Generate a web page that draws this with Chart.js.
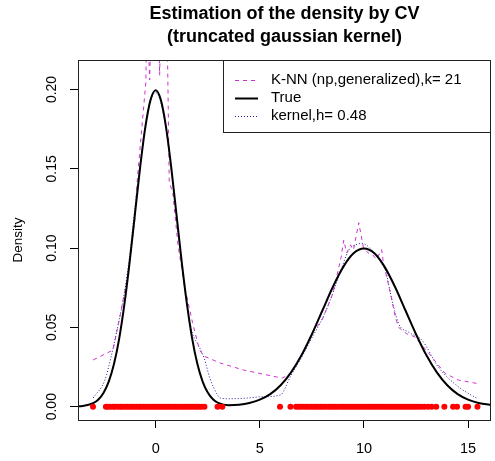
<!DOCTYPE html>
<html>
<head>
<meta charset="utf-8">
<script src="https://cdn.jsdelivr.net/npm/chart.js@4.4.1/dist/chart.umd.min.js"></script>
<style>
  body { margin: 0; background: #fff; }
  canvas { display: block; }
</style>
</head>
<body>
<canvas id="densityChart" width="495" height="461"></canvas>
<script>
// ---- data ----
const titleLines = ['Estimation of the density by CV', '(truncated gaussian kernel)'];
const yAxisTitle = 'Density';

const xTicks = [0, 5, 10, 15];
const xTickLabels = ['0', '5', '10', '15'];
const yTicks = [0, 0.05, 0.10, 0.15, 0.20];
const yTickLabels = ['0.00', '0.05', '0.10', '0.15', '0.20'];

const trueX = [-3.8, -3.5, -3.0, -2.75, -2.5, -2.25, -2.0, -1.75, -1.5, -1.25, -1.0, -0.75, -0.5, -0.25, 0,
    0.25, 0.5, 0.75, 1.0, 1.25, 1.5, 1.75, 2.0, 2.25, 2.5, 2.75, 3.0, 3.5, 4.0, 4.5, 5.0, 5.5, 6.0, 6.5,
    7.0, 7.5, 8.0, 8.5, 9.0, 9.5, 10.0, 10.5, 11.0, 11.5, 12.0, 12.5, 13.0, 13.5, 14.0, 14.5, 15.0, 15.5, 16.2];
const trueY = [0.0002, 0.0004, 0.0022, 0.0045, 0.0088, 0.0159, 0.0270, 0.0431, 0.0648, 0.0913, 0.1210, 0.1506, 0.1760, 0.1933, 0.1995,
    0.1933, 0.1760, 0.1506, 0.1210, 0.0913, 0.0648, 0.0431, 0.0270, 0.0160, 0.0089, 0.0047, 0.0024, 0.0009, 0.0012, 0.0023, 0.0044, 0.0079, 0.0135, 0.0216,
    0.0324, 0.0457, 0.0605, 0.0753, 0.0880, 0.0967, 0.0997, 0.0967, 0.0880, 0.0753, 0.0605, 0.0457, 0.0324, 0.0216, 0.0135, 0.0079, 0.0044, 0.0023, 0.0009];

const knnX = [-3.0, -2.05, -1.7, -1.35, -1.0, -0.89, -0.47, -0.42, -0.29, -0.18, 0.0, 0.12, 0.19, 0.27, 0.45, 0.57, 0.65,
    0.83, 1.07, 1.4, 1.77, 2.1, 2.3, 3.1, 4.25, 6.07, 6.45, 7.0, 7.5, 8.0, 8.5, 8.9, 9.03, 9.17, 9.36, 9.5, 9.75, 9.98,
    10.2, 10.4, 10.6, 10.85, 10.94, 11.18, 11.5, 11.66, 12.05, 12.45, 13.25, 13.89, 14.53, 15.4];
const knnY = [0.0295, 0.0357, 0.058, 0.082, 0.118, 0.142, 0.205, 0.26, 0.206, 0.26, 0.28, 0.26, 0.209, 0.26, 0.28, 0.22, 0.142,
    0.134, 0.102, 0.075, 0.053, 0.036, 0.032, 0.0275, 0.023, 0.018, 0.0205, 0.032, 0.046, 0.055, 0.071, 0.094, 0.105, 0.097, 0.102, 0.099, 0.116, 0.100,
    0.097, 0.096, 0.093, 0.099, 0.090, 0.077, 0.057, 0.050, 0.046, 0.044, 0.0315, 0.021, 0.0168, 0.0147];

const kernelX = [-3.0, -2.44, -2.15, -1.75, -1.5, -1.25, -1.0, -0.75, -0.5, -0.25, 0, 0.25, 0.5, 0.75, 1.0, 1.25, 1.5,
    1.77, 2.0, 2.33, 2.6, 2.97, 3.13, 3.5, 4.24, 5.19, 5.99, 6.47, 7.0, 7.36, 8.16, 8.79, 9.27, 9.6, 9.91, 10.38, 10.86,
    11.03, 11.3, 11.66, 12.14, 12.78, 13.57, 14.53, 15.48];
const kernelY = [0.0055, 0.0168, 0.031, 0.055, 0.072, 0.095, 0.125, 0.153, 0.177, 0.193, 0.198, 0.192, 0.175, 0.149, 0.120, 0.090, 0.064,
    0.046, 0.040, 0.0305, 0.018, 0.0074, 0.0053, 0.0050, 0.0053, 0.0063, 0.0074, 0.019, 0.031, 0.040, 0.060, 0.082, 0.0987, 0.102, 0.103, 0.0987, 0.090,
    0.086, 0.070, 0.0525, 0.047, 0.042, 0.025, 0.0126, 0.0048];

const rugX = [-3.01, -2.39, -2.3, -2.18, -2.05, -1.96, -1.82, -1.7, -1.61, -1.48, -1.37, -1.25, -1.14, -1.03, -0.92, -0.8,
    -0.71, -0.6, -0.49, -0.38, -0.27, -0.16, -0.05, 0.06, 0.17, 0.28, 0.39, 0.5, 0.61, 0.72, 0.84, 0.95, 1.06, 1.18,
    1.29, 1.4, 1.52, 1.63, 1.74, 1.86, 1.97, 2.08, 2.2, 2.34, 2.97, 3.2,
    5.97, 6.47, 6.74, 6.85, 6.97, 7.1, 7.22, 7.33, 7.46, 7.58, 7.7, 7.81, 7.93, 8.05, 8.17, 8.3, 8.41, 8.53, 8.65,
    8.77, 8.9, 9.01, 9.13, 9.25, 9.37, 9.49, 9.61, 9.73, 9.85, 9.97, 10.09, 10.21, 10.33, 10.45, 10.57, 10.69, 10.81,
    10.93, 11.05, 11.17, 11.29, 11.41, 11.53, 11.65, 11.77, 11.89, 12.01, 12.13, 12.26, 12.38, 12.5, 12.62, 12.76,
    12.9, 13.08, 13.25, 13.47, 13.86, 14.28, 14.47, 14.88, 15.0, 15.45];

const xMin = -3.73, xMax = 16.1;
const yMin = -0.0084, yMax = 0.2186;

const FONT = '"Liberation Sans", Arial, sans-serif';

function toPoints(xs, ys) {
    return xs.map((x, i) => ({ x: x, y: ys[i] }));
}

// title drawn over the plot region, like R's main=
const titlePlugin = {
    id: 'rTitle',
    afterDraw(chart) {
        const { ctx, chartArea } = chart;
        const cx = (chartArea.left + chartArea.right) / 2;
        ctx.save();
        ctx.fillStyle = '#000';
        ctx.font = 'bold 18px ' + FONT;
        ctx.textAlign = 'center';
        ctx.textBaseline = 'middle';
        titleLines.forEach((line, i) => ctx.fillText(line, cx, 14 + i * 23));
        ctx.restore();
    }
};

// plot box + R style legend in the top right corner
const boxLegendPlugin = {
    id: 'rBoxLegend',
    afterDraw(chart) {
        const { ctx, chartArea } = chart;
        ctx.save();
        ctx.strokeStyle = '#222';
        ctx.lineWidth = 1;
        ctx.strokeRect(chartArea.left + 0.5, chartArea.top + 0.5,
            chartArea.right - chartArea.left - 1, chartArea.bottom - chartArea.top);

        const w = 268, h = 72;
        const bx = chartArea.right - w, by = chartArea.top;
        ctx.fillStyle = '#fff';
        ctx.fillRect(bx + 0.5, by + 0.5, w - 1, h);
        ctx.strokeRect(bx + 0.5, by + 0.5, w - 1, h);

        const items = chart.data.datasets.filter(d => d.inLegend);
        ctx.font = '15px ' + FONT;
        ctx.textBaseline = 'middle';
        items.forEach((d, i) => {
            const y = by + 20 + i * 18;
            ctx.strokeStyle = d.borderColor;
            ctx.lineWidth = d.borderWidth;
            ctx.setLineDash(d.borderDash || []);
            ctx.beginPath();
            ctx.moveTo(bx + 12, y + 0.5);
            ctx.lineTo(bx + 35, y + 0.5);
            ctx.stroke();
            ctx.fillStyle = '#000';
            ctx.fillText(d.label, bx + 48, y);
        });
        ctx.restore();
    }
};

new Chart(document.getElementById('densityChart'), {
    type: 'scatter',
    data: {
        datasets: [{
            label: 'sample',
            data: rugX.map(x => ({ x: x, y: 0 })),
            backgroundColor: '#ff0000',
            borderWidth: 0,
            pointRadius: 3,
            showLine: false,
            order: 0
        }, {
            label: 'K-NN (np,generalized),k= 21',
            inLegend: true,
            data: toPoints(knnX, knnY),
            showLine: true,
            borderColor: '#cc33cc',
            borderWidth: 1,
            borderDash: [4, 4],
            pointRadius: 0,
            tension: 0,
            order: 2
        }, {
            label: 'True',
            inLegend: true,
            data: toPoints(trueX, trueY),
            showLine: true,
            borderColor: '#000000',
            borderWidth: 2,
            pointRadius: 0,
            cubicInterpolationMode: 'monotone',
            order: 1
        }, {
            label: 'kernel,h= 0.48',
            inLegend: true,
            data: toPoints(kernelX, kernelY),
            showLine: true,
            borderColor: '#1c1c9c',
            borderWidth: 1,
            borderDash: [1, 2],
            pointRadius: 0,
            cubicInterpolationMode: 'monotone',
            order: 3
        }]
    },
    options: {
        responsive: false,
        animation: false,
        devicePixelRatio: 1,
        layout: { padding: { top: 60, right: 2, left: 0, bottom: 0 } },
        plugins: {
            legend: { display: false },
            tooltip: { enabled: false }
        },
        scales: {
            x: {
                type: 'linear',
                min: xMin,
                max: xMax,
                afterBuildTicks: s => { s.ticks = xTicks.map(v => ({ value: v })); },
                afterFit: s => { s.height = 41; },
                ticks: {
                    color: '#000',
                    padding: 12,
                    maxRotation: 0,
                    font: { family: FONT, size: 14.5 },
                    callback: (v, i) => xTickLabels[i]
                },
                grid: { drawOnChartArea: false, drawTicks: true, tickLength: 8, color: '#000' },
                border: { display: false }
            },
            y: {
                type: 'linear',
                min: yMin,
                max: yMax,
                afterBuildTicks: s => { s.ticks = yTicks.map(v => ({ value: v })); },
                afterFit: s => { s.width = 78; },
                ticks: {
                    color: '#000',
                    padding: 4,
                    minRotation: 90,
                    maxRotation: 90,
                    crossAlign: 'center',
                    font: { family: FONT, size: 14 },
                    callback: (v, i) => yTickLabels[i]
                },
                grid: { drawOnChartArea: false, drawTicks: true, tickLength: 8, color: '#000' },
                border: { display: false },
                title: {
                    display: true,
                    text: yAxisTitle,
                    color: '#000',
                    padding: { top: 10, bottom: 0 },
                    font: { family: FONT, size: 13.5 }
                }
            }
        }
    },
    plugins: [titlePlugin, boxLegendPlugin]
});
</script>
</body>
</html>
